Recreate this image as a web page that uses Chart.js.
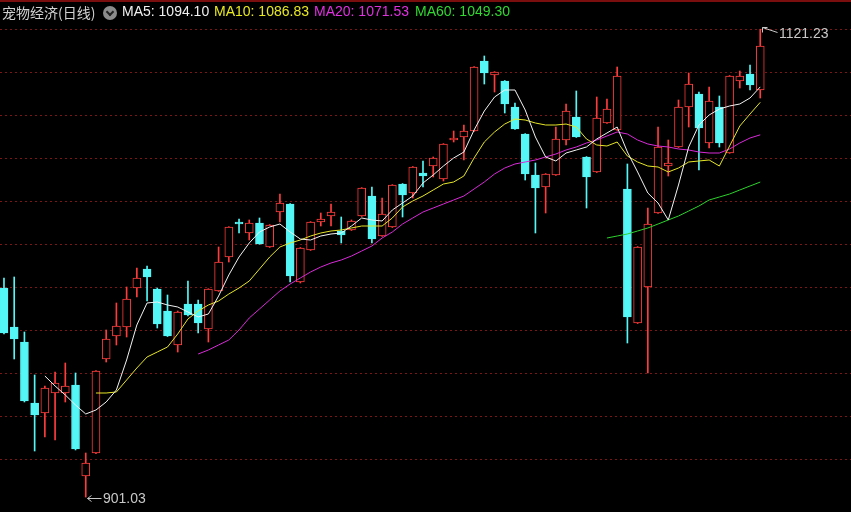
<!DOCTYPE html>
<html>
<head>
<meta charset="utf-8">
<script src="https://cdn.jsdelivr.net/npm/chart.js@4.4.0/dist/chart.umd.min.js"></script>
<style>
  body { margin: 0; background: #000; overflow: hidden; }
  #wrap { position: relative; width: 851px; height: 512px; }
  .lbl { position: absolute; top: 3px; line-height: 20px; font: 14px "Liberation Sans", Arial, sans-serif; white-space: nowrap; }
  #ttl { left: 2px; color: #d2d2d2; font-family: "Noto Sans CJK SC", sans-serif; font-size: 14px; top: 2px; }
  #ico { position: absolute; left: 103px; top: 6px; width: 14px; height: 14px; border-radius: 7px; background: #8c8c8c; }
  #ico:after { content: ""; position: absolute; left: 4px; top: 3px; width: 4px; height: 4px; border-right: 2px solid #222; border-bottom: 2px solid #222; transform: rotate(45deg); }
</style>
</head>
<body>
<div id="wrap">
  <canvas id="kline" width="851" height="512"></canvas>
  <div class="lbl" id="ttl">宠物经济(日线)</div>
  <div id="ico"></div>
  <div class="lbl" style="left:122px;color:#f0f0f0">MA5: 1094.10</div>
  <div class="lbl" style="left:214px;color:#e8e820">MA10: 1086.83</div>
  <div class="lbl" style="left:314px;color:#e030e0">MA20: 1071.53</div>
  <div class="lbl" style="left:415px;color:#30d830">MA60: 1049.30</div>
</div>
<script>
// daily candles, oldest first
opens = [999.44,981.08,974.02,945.31,940.60,950.01,950.01,953.78,910.95,921.77,
  966.02,976.84,981.08,999.44,1008.38,998.97,988.61,972.61,991.91,991.91,
  980.14,998.03,1014.03,1030.50,1025.33,1030.03,1018.74,1035.21,1038.98,1002.26,
  1017.32,1030.50,1033.33,1026.27,1026.74,1033.33,1042.74,1023.91,1028.15,1048.39,
  1044.15,1053.57,1056.86,1050.74,1069.10,1070.51,1073.34,1106.29,1099.70,1096.87,
  1084.64,1071.93,1052.63,1046.98,1052.63,1069.10,1079.93,1061.10,1054.04,1077.10,
  1073.81,1046.04,982.96,999.91,1034.74,1056.86,1065.81,1084.64,1090.75,1067.69,
  1084.64,1062.98,1096.87,1100.17,1092.64]
highs = [1004.15,1004.62,978.73,958.49,953.31,959.90,964.14,959.43,921.77,960.60,
  979.67,992.38,999.91,1008.85,1009.79,999.44,996.14,988.61,1002.73,993.79,
  999.10,1018.74,1028.30,1031.92,1031.45,1032.39,1029.30,1043.68,1039.20,1018.50,
  1030.70,1034.74,1038.98,1032.86,1031.45,1046.70,1046.98,1041.80,1048.10,1048.60,
  1056.60,1059.22,1061.10,1067.40,1073.34,1076.16,1103.70,1108.64,1101.30,1097.10,
  1086.52,1072.10,1058.28,1053.30,1075.22,1086.05,1092.17,1061.30,1089.34,1088.40,
  1103.46,1057.81,1018.95,1037.09,1075.22,1069.10,1087.93,1100.64,1091.70,1094.05,
  1089.81,1099.45,1101.58,1104.40,1121.23]
lows = [977.79,966.02,945.78,922.71,929.30,927.89,945.78,923.20,901.03,921.50,
  964.61,972.61,976.37,995.20,993.32,980.61,976.60,969.31,986.26,978.26,
  974.02,997.80,1011.68,1025.33,1022.03,1020.00,1018.50,1030.50,1002.26,1001.79,
  1017.10,1028.62,1028.62,1020.62,1026.50,1033.10,1020.62,1023.70,1027.90,1032.86,
  1041.80,1046.98,1051.69,1049.80,1068.16,1059.69,1073.10,1095.46,1091.70,1081.81,
  1074.10,1050.27,1025.33,1034.74,1052.40,1066.75,1070.30,1037.09,1053.80,1076.90,
  1073.60,973.55,982.70,959.43,1034.50,1052.16,1065.60,1075.22,1054.98,1065.34,
  1065.81,1062.80,1093.58,1092.64,1088.87]
closes = [978.26,975.43,946.25,939.66,952.37,954.72,953.31,923.66,917.07,960.37,
  975.43,981.55,994.26,1004.15,1004.62,982.49,976.84,988.14,986.73,982.96,
  998.97,1011.68,1028.15,1029.56,1030.03,1020.15,1029.09,1039.45,1005.09,1018.27,
  1030.50,1031.92,1035.21,1024.39,1030.98,1046.51,1022.50,1034.27,1047.92,1043.21,
  1056.39,1052.16,1060.63,1067.22,1070.04,1073.34,1103.46,1100.64,1101.11,1086.05,
  1074.28,1053.10,1046.51,1053.10,1069.57,1082.75,1070.51,1051.69,1079.46,1083.69,
  1099.23,985.79,1018.74,1029.56,1065.81,1058.28,1084.64,1095.46,1074.75,1087.46,
  1067.69,1099.23,1099.23,1094.99,1113.35]

// moving average lines, each starts at its own candle
ma5Start = 4
ma5 = [958.02,953.31,949.07,944.37,940.13,942.01,945.78,951.43,965.55,982.02,
  992.38,992.85,991.44,990.50,988.14,985.79,987.20,995.67,1005.56,1014.03,
  1020.62,1025.80,1028.15,1029.56,1025.80,1022.50,1022.03,1023.91,1024.86,1025.33,
  1028.62,1032.39,1031.45,1030.98,1036.15,1039.45,1042.74,1048.86,1052.63,1056.86,
  1060.63,1063.45,1073.81,1082.75,1089.34,1092.64,1092.64,1083.22,1070.51,1061.10,
  1059.22,1062.98,1064.39,1065.81,1069.57,1072.40,1075.22,1063.45,1054.04,1044.15,
  1039.45,1031.45,1047.92,1065.81,1076.16,1080.87,1083.69,1085.11,1086.05,1088.87,
  1094.10]
ma10Start = 9
ma10 = [950.01,950.01,950.49,956.13,961.78,966.96,969.31,971.67,977.79,984.85,
  988.61,991.44,993.32,996.61,999.44,1002.73,1008.38,1014.03,1018.74,1020.62,
  1022.03,1023.91,1025.33,1026.27,1026.74,1027.68,1028.62,1028.62,1028.62,1032.39,
  1037.57,1040.39,1042.74,1045.57,1048.39,1049.33,1052.16,1060.63,1068.16,1072.87,
  1076.63,1078.99,1078.52,1077.10,1076.16,1076.16,1076.63,1075.22,1069.57,1066.75,
  1066.28,1068.16,1061.57,1058.75,1056.86,1056.39,1054.04,1055.92,1058.75,1059.22,
  1059.69,1056.86,1066.28,1075.69,1081.34,1086.83]
ma20Start = 19
ma20 = [968.37,970.25,972.61,974.96,979.67,985.32,989.55,993.79,998.03,1001.32,
  1004.15,1006.97,1009.32,1011.21,1012.62,1014.50,1016.85,1019.21,1022.97,1025.80,
  1029.56,1032.39,1035.21,1037.09,1038.98,1040.86,1042.74,1046.04,1049.33,1053.10,
  1055.92,1057.81,1058.75,1059.69,1061.10,1062.51,1064.39,1065.81,1067.69,1069.10,
  1070.98,1072.87,1071.93,1069.10,1067.22,1066.28,1065.81,1064.87,1064.39,1063.45,
  1062.98,1062.98,1064.87,1067.69,1070.04,1071.53]
ma60Start = 59
ma60 = [1022.97,1023.91,1024.86,1026.27,1027.68,1029.56,1031.45,1033.33,1035.68,1038.04,
  1040.86,1042.27,1043.68,1045.57,1047.45,1049.30]

// dashed horizontal guide levels
gridVals = [1120.88,1100.64,1080.40,1060.16,1039.92,1019.68,999.44,979.20,958.96,938.72,918.48]

upColor = '#ff3c3c'
downColor = '#54f6f6'

function maPoints(arr, start) {
  let pts = []
  for (let k = 0; k < arr.length; k++) {
    pts.push({ x: start + k, y: arr[k] })
  }
  return pts
}

wickData = []
bodyData = []
wickColors = []
bodyFill = []
bodyBorder = []
for (i = 0; i < opens.length; i++) {
  let up = closes[i] >= opens[i]
  wickData.push({ x: i, y: [lows[i], highs[i]] })
  bodyData.push({ x: i, y: [Math.min(opens[i], closes[i]), Math.max(opens[i], closes[i])] })
  wickColors.push(up ? upColor : downColor)
  bodyFill.push(up ? '#000000' : downColor)
  bodyBorder.push(up ? upColor : downColor)
}

// arrows + labels at the highest high and lowest low
const extremes = {
  id: 'extremes',
  beforeDraw(chart) {
    let c = chart.ctx
    c.save()
    c.fillStyle = '#000'
    c.fillRect(0, 0, chart.width, chart.height)
    c.strokeStyle = '#7a0d0d'
    c.lineWidth = 2
    c.beginPath(); c.moveTo(0, 1); c.lineTo(chart.width, 1); c.stroke()
    c.restore()
  },
  afterDatasetsDraw(chart) {
    let c = chart.ctx, xs = chart.scales.x, ys = chart.scales.y
    let hi = highs.indexOf(Math.max(...highs))
    let lo = lows.indexOf(Math.min(...lows))
    c.save()
    c.strokeStyle = '#c8c8c8'
    c.fillStyle = '#c8c8c8'
    c.lineWidth = 1
    c.font = '14px "Liberation Sans", Arial, sans-serif'
    c.textBaseline = 'middle'

    let px = Math.round(xs.getPixelForValue(hi)), py = Math.round(ys.getPixelForValue(highs[hi]))
    c.beginPath()
    c.moveTo(px + 2.5, py - 1.5); c.lineTo(px + 17.5, py + 3.5)
    c.moveTo(px + 2.5, py - 1.5); c.lineTo(px + 7.5, py - 1.5)
    c.moveTo(px + 2.5, py - 1.5); c.lineTo(px + 2.5, py + 3.5)
    c.stroke()
    c.fillText(highs[hi].toFixed(2), px + 19, py + 5)

    px = Math.round(xs.getPixelForValue(lo)); py = Math.round(ys.getPixelForValue(lows[lo]))
    c.beginPath()
    c.moveTo(px + 1.5, py + 1.5); c.lineTo(px + 15.5, py + 1.5)
    c.moveTo(px + 1.5, py + 1.5); c.lineTo(px + 5.5, py - 1.5)
    c.moveTo(px + 1.5, py + 1.5); c.lineTo(px + 5.5, py + 4.5)
    c.stroke()
    c.fillText(lows[lo].toFixed(2), px + 17, py + 2)
    c.restore()
  }
}

new Chart(document.getElementById('kline'), {
  type: 'bar',
  data: {
    datasets: [
      { type: 'line', label: 'MA5', data: maPoints(ma5, ma5Start), borderColor: '#f2f2f2', borderWidth: 1, pointRadius: 0, order: 0 },
      { type: 'line', label: 'MA10', data: maPoints(ma10, ma10Start), borderColor: '#e6e628', borderWidth: 1, pointRadius: 0, order: 0 },
      { type: 'line', label: 'MA20', data: maPoints(ma20, ma20Start), borderColor: '#d82ad8', borderWidth: 1, pointRadius: 0, order: 0 },
      { type: 'line', label: 'MA60', data: maPoints(ma60, ma60Start), borderColor: '#2cd22c', borderWidth: 1, pointRadius: 0, order: 0 },
      { label: 'body', data: bodyData, backgroundColor: bodyFill, borderColor: bodyBorder, borderWidth: 1,
        borderSkipped: false, barThickness: 8, minBarLength: 1, grouped: false, order: 1 },
      { label: 'wick', data: wickData, backgroundColor: wickColors, borderWidth: 0,
        barThickness: 1, grouped: false, order: 2 }
    ]
  },
  options: {
    responsive: false,
    animation: false,
    events: [],
    layout: { padding: 0 },
    plugins: { legend: { display: false }, tooltip: { enabled: false } },
    scales: {
      x: { type: 'linear', min: -0.39, max: 82.88, offset: false, display: false },
      y: {
        min: 894, max: 1135,
        position: 'left',
        afterBuildTicks: function (s) { s.ticks = gridVals.map(v => ({ value: v })) },
        afterFit: function (s) { s.width = 0 },
        ticks: { display: false },
        grid: { color: '#7a1616', lineWidth: 1, drawTicks: false },
        border: { display: false, dash: [2, 3] }
      }
    }
  },
  plugins: [extremes]
})
</script>
</body>
</html>
